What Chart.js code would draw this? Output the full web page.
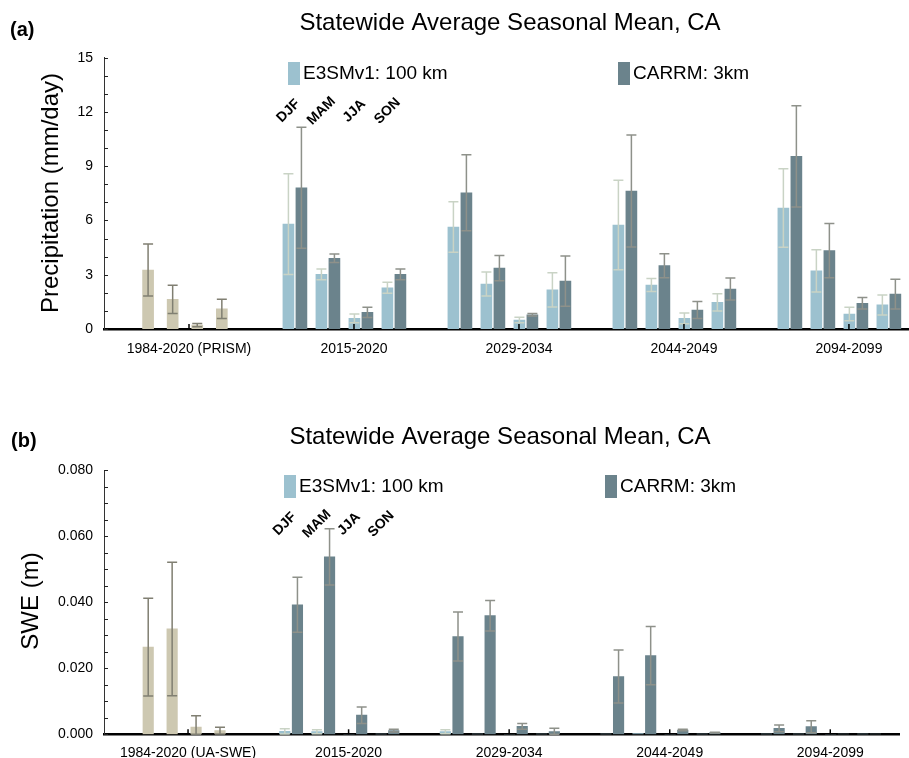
<!DOCTYPE html>
<html><head><meta charset="utf-8">
<script src="https://cdn.jsdelivr.net/npm/chart.js@4.4.1/dist/chart.umd.min.js"></script>
<style>
html,body{margin:0;padding:0;background:#fff;}
#wrap{position:relative;width:909px;height:758px;overflow:hidden;}
canvas{position:absolute;left:0;}
#c1{top:0;} #c2{top:380px;}
</style></head><body>
<div id="wrap"><canvas id="c1" width="909" height="380"></canvas><canvas id="c2" width="909" height="378"></canvas></div>
<script>
// ---------------- DATA ----------------
const seasons = ['DJF', 'MAM', 'JJA', 'SON'];
const precipPeriods = ['1984-2020 (PRISM)', '2015-2020', '2029-2034', '2044-2049', '2094-2099'];
const swePeriods = ['1984-2020 (UA-SWE)', '2015-2020', '2029-2034', '2044-2049', '2094-2099'];
const modelNames = ['E3SMv1: 100 km', 'CARRM: 3km'];

// Precipitation (mm/day): observations per season
const precipObs = [3.26, 1.64, 0.22, 1.11];
const precipObsErr = [1.44, 0.78, 0.09, 0.53];
// Precipitation per model period (rows: 2015-2020, 2029-2034, 2044-2049, 2094-2099; cols: DJF MAM JJA SON)
const precipE3SM = [
  [5.80, 3.02, 0.59, 2.28],
  [5.64, 2.49, 0.50, 2.16],
  [5.75, 2.43, 0.59, 1.47],
  [6.69, 3.21, 0.83, 1.33]
];
const precipE3SMErr = [
  [2.79, 0.30, 0.24, 0.30],
  [1.40, 0.66, 0.15, 0.95],
  [2.48, 0.36, 0.30, 0.48],
  [2.17, 1.17, 0.37, 0.55]
];
const precipCARRM = [
  [7.81, 3.91, 0.92, 3.02],
  [7.53, 3.37, 0.79, 2.65],
  [7.63, 3.50, 1.05, 2.21],
  [9.55, 4.33, 1.42, 1.93]
];
const precipCARRMErr = [
  [3.35, 0.24, 0.28, 0.30],
  [2.10, 0.70, 0.07, 1.39],
  [3.09, 0.66, 0.47, 0.61],
  [2.80, 1.50, 0.32, 0.82]
];

// SWE (m)
const sweObs = [0.0264, 0.0319, 0.0022, 0.0011];
const sweObsErr = [0.0148, 0.0202, 0.0034, 0.0010];
const sweE3SM = [
  [0.0009, 0.0008, 0.0000, 0.0001],
  [0.0008, 0.0001, 0.0000, 0.0001],
  [0.0001, 0.0002, 0.0000, 0.0001],
  [0.0001, 0.0001, 0.0000, 0.0001]
];
const sweE3SMErr = [
  [0.0008, 0.0006, 0, 0],
  [0.0006, 0, 0, 0],
  [0, 0, 0, 0],
  [0, 0, 0, 0]
];
const sweCARRM = [
  [0.0392, 0.0537, 0.0058, 0.0011],
  [0.0296, 0.0359, 0.0024, 0.0008],
  [0.0175, 0.0238, 0.0013, 0.0005],
  [0.0018, 0.0023, 0.0001, 0.0001]
];
const sweCARRMErr = [
  [0.0083, 0.0085, 0.0025, 0.0004],
  [0.0074, 0.0046, 0.0009, 0.0010],
  [0.0080, 0.0088, 0.0002, 0.0001],
  [0.0010, 0.0018, 0, 0]
];

// ---------------- STYLE / LAYOUT ----------------
const FONT = "'Liberation Sans', Arial, Helvetica, sans-serif";
const COL_E3SM = '#9cc1cf', COL_CARRM = '#6b838c', COL_OBS = '#cdc8b1';
const ERR_E3SM = '#c9d3c5', ERR_CARRM = '#8e918a', ERR_OBS = '#807f72';
const PERIOD_STEP = 5;        // slots between period ticks
const PAIR_START = -1.79;     // DJF pair centre relative to period tick
const MODEL_OFFSET = 0.197;   // half distance between paired bars
const OBS_START = -1.24, OBS_STEP = 0.745;

Chart.defaults.font.family = FONT;
Chart.defaults.color = '#000';

function modelPoints(values, modelIdx) {
  const pts = [];
  values.forEach((row, p) => row.forEach((v, s) => {
    pts.push({ x: (p + 1) * PERIOD_STEP + PAIR_START + s + (modelIdx === 0 ? -MODEL_OFFSET : MODEL_OFFSET), y: v });
  }));
  return pts;
}
function obsPoints(values) {
  return values.map((v, s) => ({ x: OBS_START + OBS_STEP * s, y: v }));
}

const errorBars = {
  id: 'errorBars',
  afterDatasetsDraw(chart) {
    const ctx = chart.ctx, ys = chart.scales.y;
    chart.data.datasets.forEach((ds, i) => {
      const meta = chart.getDatasetMeta(i);
      ctx.save();
      ctx.strokeStyle = ds.errorColor; ctx.lineWidth = 1.5;
      meta.data.forEach((el, j) => {
        const v = ds.data[j].y, e = ds.errors[j];
        if (!e) return;
        const top = ys.getPixelForValue(v + e), bot = ys.getPixelForValue(Math.max(0, v - e));
        const hw = 5;
        ctx.beginPath();
        ctx.moveTo(el.x, top); ctx.lineTo(el.x, bot);
        ctx.moveTo(el.x - hw, top); ctx.lineTo(el.x + hw, top);
        ctx.moveTo(el.x - hw, bot); ctx.lineTo(el.x + hw, bot);
        ctx.stroke();
      });
      ctx.restore();
    });
  }
};

const decor = {
  id: 'decor',
  afterDraw(chart, args, o) {
    const ctx = chart.ctx, xs = chart.scales.x, ys = chart.scales.y, a = chart.chartArea;
    ctx.save();
    // y minor ticks (inward)
    ctx.strokeStyle = '#222'; ctx.lineWidth = 1;
    for (let v = ys.min; v <= ys.max + 1e-9; v += o.minorStep) {
      const y = Math.round(ys.getPixelForValue(v)) + 0.5;
      ctx.beginPath(); ctx.moveTo(a.left, y); ctx.lineTo(a.left + 4, y); ctx.stroke();
    }
    // x ticks (inward, at period positions)
    ctx.strokeStyle = '#000'; ctx.lineWidth = 1.5;
    xs.ticks.forEach(t => {
      const x = xs.getPixelForValue(t.value);
      ctx.beginPath(); ctx.moveTo(x, a.bottom); ctx.lineTo(x, a.bottom - 5); ctx.stroke();
    });
    // title
    ctx.fillStyle = '#000';
    ctx.textAlign = 'center'; ctx.textBaseline = 'middle';
    ctx.font = '24px ' + FONT;
    ctx.fillText(o.title, o.titleX, o.titleY);
    // panel label
    ctx.textAlign = 'left';
    ctx.font = 'bold 20px ' + FONT;
    ctx.fillText(o.panel, o.panelX, o.panelY);
    // y-axis title
    ctx.save();
    ctx.translate(o.yTitleX, o.yTitleY); ctx.rotate(-Math.PI / 2);
    ctx.textAlign = 'center'; ctx.font = '24px ' + FONT;
    ctx.fillText(o.yTitle, 0, 0);
    ctx.restore();
    // legend
    ctx.font = '19px ' + FONT; ctx.textAlign = 'left';
    o.legend.forEach(it => {
      ctx.fillStyle = it.color; ctx.fillRect(it.x, o.legendY - 11, 12, 23);
      ctx.fillStyle = '#000'; ctx.fillText(it.text, it.x + 15, o.legendY + 1);
    });
    // season labels above first model period
    ctx.font = 'bold 14px ' + FONT; ctx.textAlign = 'center';
    seasons.forEach((s, k) => {
      const x = xs.getPixelForValue(PERIOD_STEP + PAIR_START + k - MODEL_OFFSET);
      ctx.save(); ctx.translate(x, o.seasonY); ctx.rotate(-Math.PI / 4);
      ctx.fillText(s, 0, 0); ctx.restore();
    });
    ctx.restore();
  }
};

function makeChart(id, cfg) {
  const data = {
    datasets: [
      { label: 'obs', data: obsPoints(cfg.obs), errors: cfg.obsErr, backgroundColor: COL_OBS, errorColor: ERR_OBS },
      { label: modelNames[0], data: modelPoints(cfg.e3sm, 0), errors: cfg.e3smErr.flat(), backgroundColor: COL_E3SM, errorColor: ERR_E3SM },
      { label: modelNames[1], data: modelPoints(cfg.carrm, 1), errors: cfg.carrmErr.flat(), backgroundColor: COL_CARRM, errorColor: ERR_CARRM }
    ]
  };
  return new Chart(document.getElementById(id), {
    type: 'bar',
    data,
    options: {
      responsive: false, animation: false, devicePixelRatio: 1,
      grouped: false, barThickness: cfg.barW,
      layout: { padding: { top: cfg.padTop, right: cfg.padRight, left: 0, bottom: 0 } },
      plugins: {
        legend: { display: false }, tooltip: { enabled: false }, title: { display: false },
        decor: cfg.decor
      },
      scales: {
        x: {
          type: 'linear', min: cfg.xMin, max: cfg.xMax, offset: false, bounds: 'ticks',
          grid: { display: false, drawTicks: false, offset: false },
          border: { display: true, color: '#000', width: 2.5 },
          afterBuildTicks: (s) => { s.ticks = cfg.periods.map((_, i) => ({ value: i * PERIOD_STEP })); },
          afterFit: (s) => { s.height = cfg.xH; },
          ticks: { autoSkip: false, maxRotation: 0, padding: cfg.xPad, font: { size: 14 }, color: '#000',
                   callback: (v, i) => cfg.periods[i] }
        },
        y: {
          min: cfg.yMin, max: cfg.yMax,
          grid: { display: false, drawTicks: false },
          border: { display: true, color: '#333', width: 1 },
          afterFit: (s) => { s.width = 104; },
          ticks: { stepSize: cfg.yStep, padding: 11, font: { size: 14 }, color: '#000', callback: cfg.yFmt }
        }
      }
    },
    plugins: [errorBars, decor]
  });
}

makeChart('c1', {
  periods: precipPeriods, obs: precipObs, obsErr: precipObsErr,
  e3sm: precipE3SM, e3smErr: precipE3SMErr, carrm: precipCARRM, carrmErr: precipCARRMErr,
  barW: 11, padTop: 57.7, padRight: 0, xH: 51, xPad: 12,
  xMin: -2.576, xMax: 21.82, yMin: 0, yMax: 15, yStep: 3, yFmt: v => String(v),
  decor: {
    title: 'Statewide Average Seasonal Mean, CA', titleX: 510, titleY: 23,
    panel: '(a)', panelX: 10, panelY: 30,
    yTitle: 'Precipitation (mm/day)', yTitleX: 51, yTitleY: 193,
    legendY: 73, legend: [{ x: 288, color: COL_E3SM, text: modelNames[0] }, { x: 618, color: COL_CARRM, text: modelNames[1] }],
    seasonY: 111, minorStep: 1
  }
});

makeChart('c2', {
  periods: swePeriods, obs: sweObs, obsErr: sweObsErr,
  e3sm: sweE3SM, e3smErr: sweE3SMErr, carrm: sweCARRM, carrmErr: sweCARRMErr,
  barW: 10.5, padTop: 90, padRight: 10, xH: 23.7, xPad: 10,
  xMin: -2.617, xMax: 22.14, yMin: 0, yMax: 0.08, yStep: 0.02, yFmt: v => v.toFixed(3),
  decor: {
    title: 'Statewide Average Seasonal Mean, CA', titleX: 500, titleY: 57,
    panel: '(b)', panelX: 11, panelY: 61,
    yTitle: 'SWE (m)', yTitleX: 31, yTitleY: 221,
    legendY: 106, legend: [{ x: 284, color: COL_E3SM, text: modelNames[0] }, { x: 605, color: COL_CARRM, text: modelNames[1] }],
    seasonY: 144, minorStep: 0.005
  }
});
</script>
</body></html>
